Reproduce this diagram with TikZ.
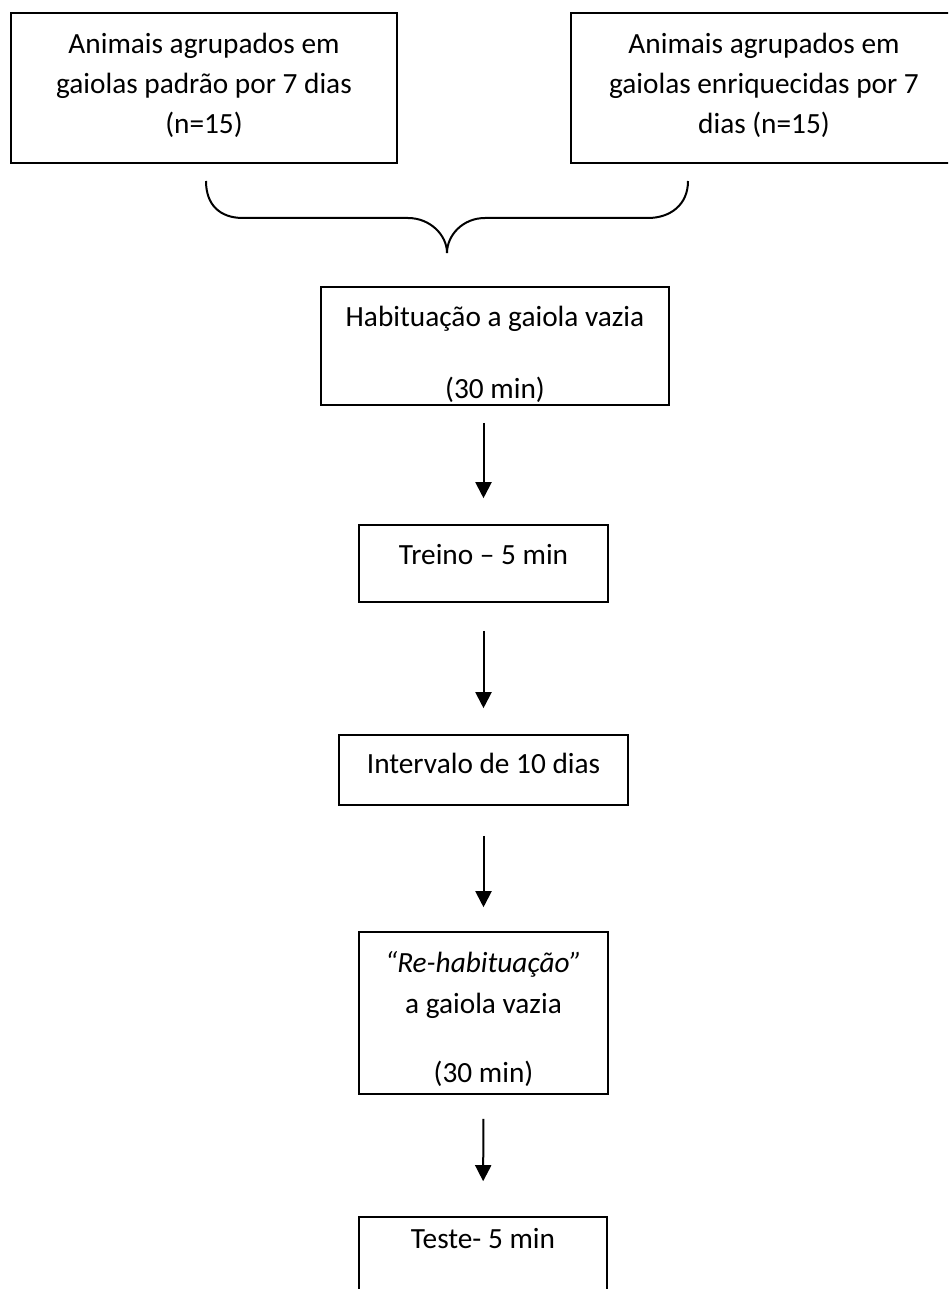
\documentclass[tikz,border=0pt]{standalone}
\usepackage{fontspec}
\setmainfont{Carlito}
\usetikzlibrary{arrows.meta}
\begin{document}
\begin{tikzpicture}[x=1pt,y=-1pt,
  stagebox/.style={draw=black, line width=1.6pt, inner sep=0pt},
  txt/.style={anchor=base, inner sep=0pt, font=\fontsize{29.3}{40}\selectfont},
  flow/.style={draw=black, line width=2pt, -{Triangle[width=16pt,length=16pt]}},
  bracestyle/.style={draw=black, line width=2pt}]
\useasboundingbox (0,0) rectangle (948,1289);
\clip (0,0) rectangle (948,1289);
\fill[white] (0,0) rectangle (948,1289);

% two housing groups
\node[stagebox, minimum width=386pt, minimum height=150pt] (grpA) at (204,88) {};
\node[txt] (grpA1) at (204,54) {Animais agrupados em};
\node[txt] (grpA2) at (204,94) {gaiolas padrão por 7 dias};
\node[txt] (grpA3) at (204,134) {(n=15)};

\node[stagebox, minimum width=386pt, minimum height=150pt] (grpB) at (764,88) {};
\node[txt] (grpB1) at (764,54) {Animais agrupados em};
\node[txt] (grpB2) at (764,94) {gaiolas enriquecidas por 7};
\node[txt] (grpB3) at (764,134) {dias (n=15)};

% brace joining both groups
\draw[bracestyle] (206,181) .. controls (206,205) and (220,218) .. (243,218)
  -- (408,218) .. controls (430,218) and (447,235) .. (447,253)
  .. controls (447,235) and (463,218) .. (485,218)
  -- (648,218) .. controls (670,218) and (688,205) .. (688,181);

% protocol steps
\node[stagebox, minimum width=348pt, minimum height=118pt] (hab) at (495,346) {};
\node[txt] (hab1) at (495,326) {Habituação a gaiola vazia};
\node[txt] (hab2) at (495,398) {(30 min)};

\node[stagebox, minimum width=249pt, minimum height=77pt] (treino) at (483.5,563.5) {};
\node[txt] (treino1) at (483.5,564) {Treino – 5 min};

\node[stagebox, minimum width=289pt, minimum height=70pt] (interv) at (483.5,770) {};
\node[txt] (interv1) at (483.5,773) {Intervalo de 10 dias};

\node[stagebox, minimum width=249pt, minimum height=162pt] (rehab) at (483.5,1013) {};
\node[txt] (rehab1) at (483.5,972) {\itshape “Re-habituação”};
\node[txt] (rehab2) at (483.5,1013) {a gaiola vazia};
\node[txt] (rehab3) at (483.5,1082) {(30 min)};

\node[stagebox, minimum width=248pt, minimum height=83pt] (teste) at (483,1258.5) {};
\node[txt] (teste1) at (483,1248) {Teste- 5 min};

% arrows between steps
\draw[flow, shorten <=17pt, shorten >=26pt] (hab.south -| treino.north) -- (treino.north);
\draw[flow, shorten <=28pt, shorten >=26pt] (treino.south) -- (interv.north);
\draw[flow, shorten <=30pt, shorten >=24pt] (interv.south) -- (rehab.north);
\draw[flow, shorten <=24pt, shorten >=35pt] (rehab.south) -- (teste.north);
\end{tikzpicture}
\end{document}
